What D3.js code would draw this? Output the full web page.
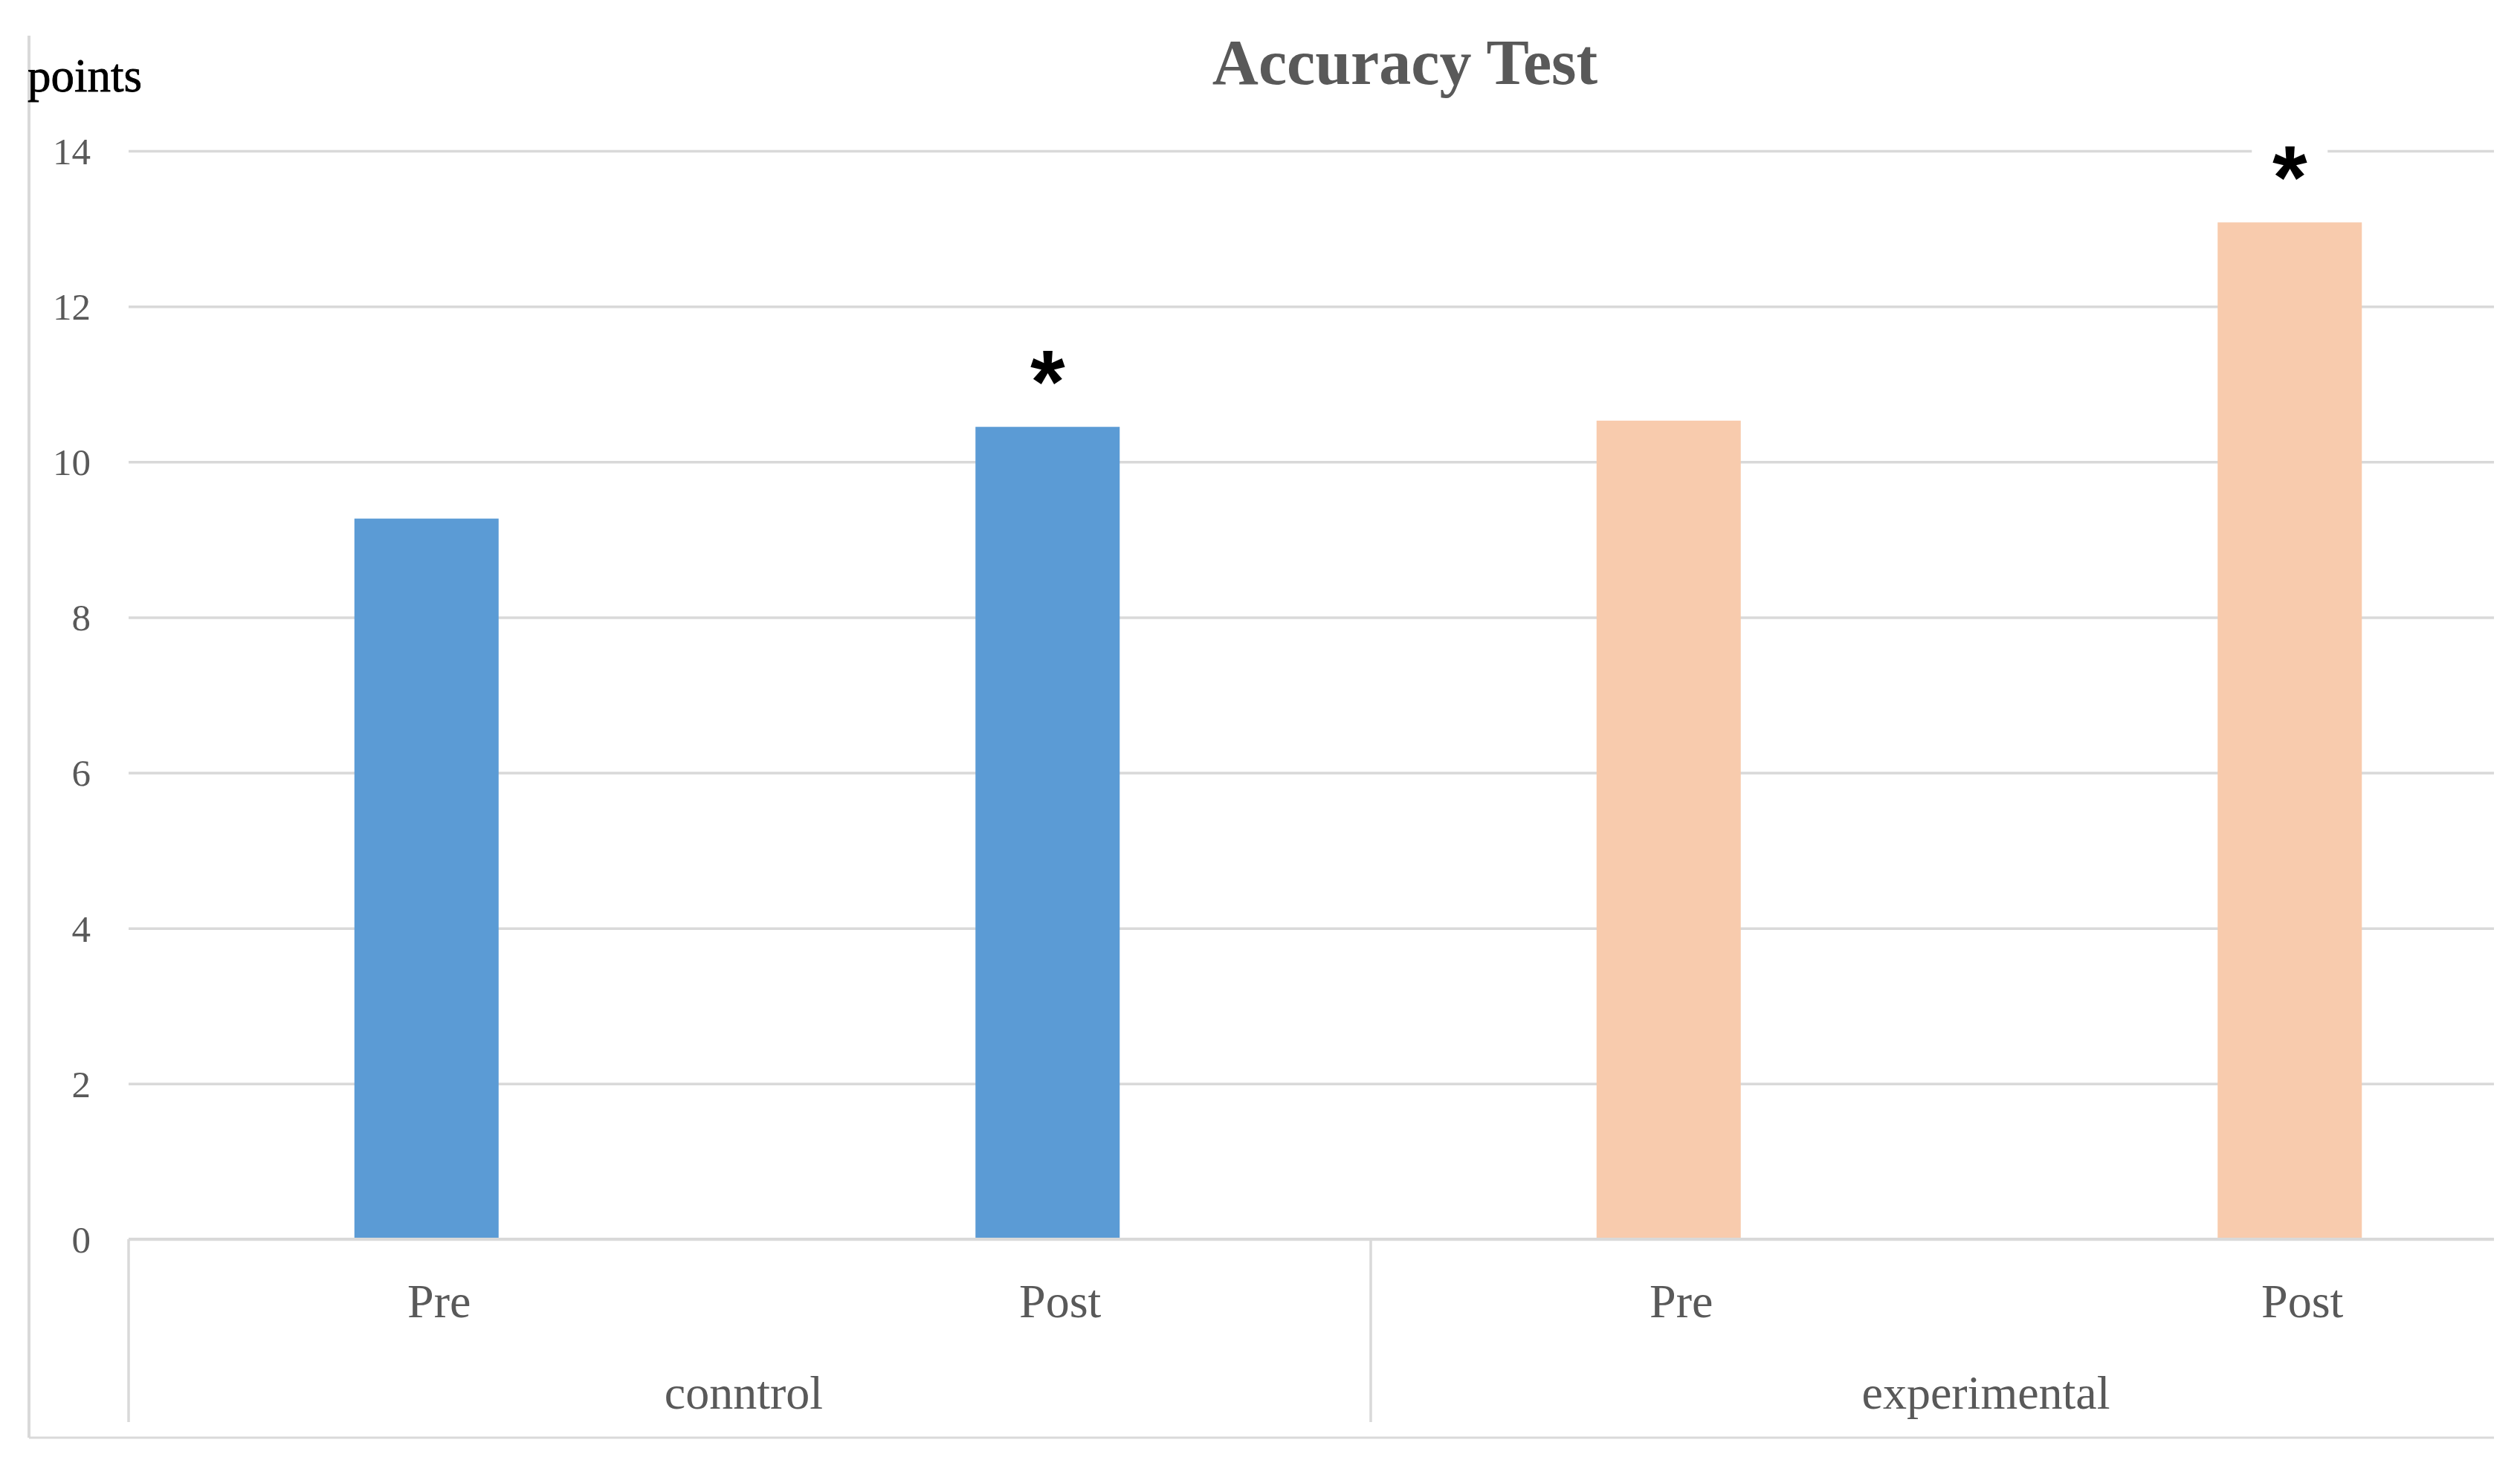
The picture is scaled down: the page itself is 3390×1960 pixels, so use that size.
<!DOCTYPE html>
<html>
<head>
<meta charset="utf-8">
<script src="https://cdn.jsdelivr.net/npm/d3@7"></script>
<style>
  html, body { margin: 0; padding: 0; background: #ffffff; }
  svg { display: block; }
</style>
</head>
<body>
<script>
'use strict';

(function() {

  // chart data
  const groups = ["conntrol", "experimental"];
  const phases = ["Pre", "Post"];
  const values = [9.27, 10.45, 10.53, 13.08];   // conntrol Pre, conntrol Post, experimental Pre, experimental Post
  const significant = [false, true, false, true];
  const yTicks = [0, 2, 4, 6, 8, 10, 12, 14];

  const barColors = { "conntrol": "#5b9bd5", "experimental": "#f8cbad" };
  const gridColor = "#d9d9d9";
  const textColor = "#595959";
  const serif = "'Liberation Serif', 'DejaVu Serif', serif";

  // one row per bar
  let rows = [];
  groups.forEach((g, gi) => {
    phases.forEach((p, pi) => {
      let i = gi * phases.length + pi;
      rows.push({ key: g + "|" + p, group: g, phase: p, value: values[i], star: significant[i] });
    });
  });

  const width = 3390, height = 1960;
  const plotLeft = 173, plotRight = 3355;   // visible part of the plot, the right end is cut off
  const bandRight = 3515;
  const baseY = 1667, topY = 203;
  const boxBottom = 1913;
  const frameLeft = 39, frameTop = 48, frameBottom = 1934;

  let svg = d3.select("body")
    .append("svg")
    .attr("width", width)
    .attr("height", height);

  svg.append("rect")
    .attr("width", width)
    .attr("height", height)
    .attr("fill", "#ffffff");

  // scales
  let yScale = d3.scaleLinear()
    .domain([0, 14])
    .range([baseY, topY]);

  let xScale = d3.scaleBand()
    .domain(rows.map((d) => d.key))
    .range([plotLeft, bandRight])
    .padding(0);

  let groupScale = d3.scaleBand()
    .domain(groups)
    .range([plotLeft, bandRight])
    .padding(0);

  const barWidth = 194;
  const barShift = -17; // bars sit a little left of the category centre
  let barX = (d) => xScale(d.key) + xScale.bandwidth() / 2 + barShift - barWidth / 2;

  // outer frame (left and bottom edges)
  svg.append("line")
    .attr("x1", frameLeft).attr("x2", frameLeft)
    .attr("y1", frameTop).attr("y2", frameBottom)
    .attr("stroke", gridColor).attr("stroke-width", 4);
  svg.append("line")
    .attr("x1", frameLeft).attr("x2", plotRight)
    .attr("y1", frameBottom).attr("y2", frameBottom)
    .attr("stroke", gridColor).attr("stroke-width", 3);

  // y axis with gridlines
  let yAxis = d3.axisLeft(yScale)
    .tickValues(yTicks)
    .tickSize(-(plotRight - plotLeft))
    .tickPadding(plotLeft - 122)
    .tickFormat(d3.format("d"));

  let yG = svg.append("g")
    .attr("transform", "translate(" + plotLeft + ",0)")
    .call(yAxis);
  yG.select(".domain").remove();
  yG.selectAll(".tick line")
    .attr("stroke", gridColor)
    .attr("stroke-width", 3.5);
  yG.selectAll(".tick text")
    .attr("fill", textColor)
    .attr("dy", "0.34em")
    .style("font-family", serif)
    .style("font-size", "51px");

  // bars
  svg.selectAll(".bar")
    .data(rows)
    .enter()
    .append("rect")
      .attr("class", "bar")
      .attr("x", barX)
      .attr("y", (d) => yScale(d.value))
      .attr("width", barWidth)
      .attr("height", (d) => yScale(0) - yScale(d.value))
      .attr("fill", (d) => barColors[d.group]);

  // x axis line
  svg.append("line")
    .attr("x1", plotLeft).attr("x2", plotRight)
    .attr("y1", baseY).attr("y2", baseY)
    .attr("stroke", gridColor).attr("stroke-width", 4);

  // category box dividers
  svg.selectAll(".divider")
    .data(groups)
    .enter()
    .append("line")
      .attr("class", "divider")
      .attr("x1", (g) => groupScale(g)).attr("x2", (g) => groupScale(g))
      .attr("y1", baseY).attr("y2", boxBottom)
      .attr("stroke", gridColor).attr("stroke-width", 3.5);

  // phase labels
  svg.selectAll(".phase")
    .data(rows)
    .enter()
    .append("text")
      .attr("class", "phase")
      .attr("x", (d) => xScale(d.key) + xScale.bandwidth() / 2)
      .attr("y", 1772)
      .attr("text-anchor", "middle")
      .attr("fill", textColor)
      .style("font-family", serif)
      .style("font-size", "64px")
      .text((d) => d.phase);

  // group labels
  svg.selectAll(".group")
    .data(groups)
    .enter()
    .append("text")
      .attr("class", "group")
      .attr("x", (g) => groupScale(g) + groupScale.bandwidth() / 2 - 8)
      .attr("y", 1895)
      .attr("text-anchor", "middle")
      .attr("fill", textColor)
      .style("font-family", serif)
      .style("font-size", "64px")
      .text((g) => g);

  // significance stars above bars
  let stars = svg.selectAll(".star")
    .data(rows.filter((d) => d.star))
    .enter()
    .append("g")
      .attr("class", "star")
      .attr("transform", (d) => "translate(" + (barX(d) + barWidth / 2) + "," + (yScale(d.value) - 87) + ")");

  stars.append("rect")
    .attr("x", -51).attr("y", -40)
    .attr("width", 102).attr("height", 80)
    .attr("fill", "#ffffff");

  stars.append("text")
    .attr("x", 0)
    .attr("y", 68)
    .attr("text-anchor", "middle")
    .attr("fill", "#000000")
    .style("font-family", "'Liberation Sans', Arial, sans-serif")
    .style("font-weight", "bold")
    .style("font-size", "120px")
    .text("*");

  // title and unit label
  svg.append("text")
    .attr("x", 1890)
    .attr("y", 113)
    .attr("text-anchor", "middle")
    .attr("fill", textColor)
    .style("font-family", serif)
    .style("font-weight", "bold")
    .style("font-size", "86px")
    .text("Accuracy Test");

  svg.append("text")
    .attr("x", 37)
    .attr("y", 123)
    .attr("fill", "#000000")
    .style("font-family", serif)
    .style("font-size", "63px")
    .style("stroke", "#000000")
    .style("stroke-width", "0.8px")
    .text("points");

})();
</script>
</body>
</html>
